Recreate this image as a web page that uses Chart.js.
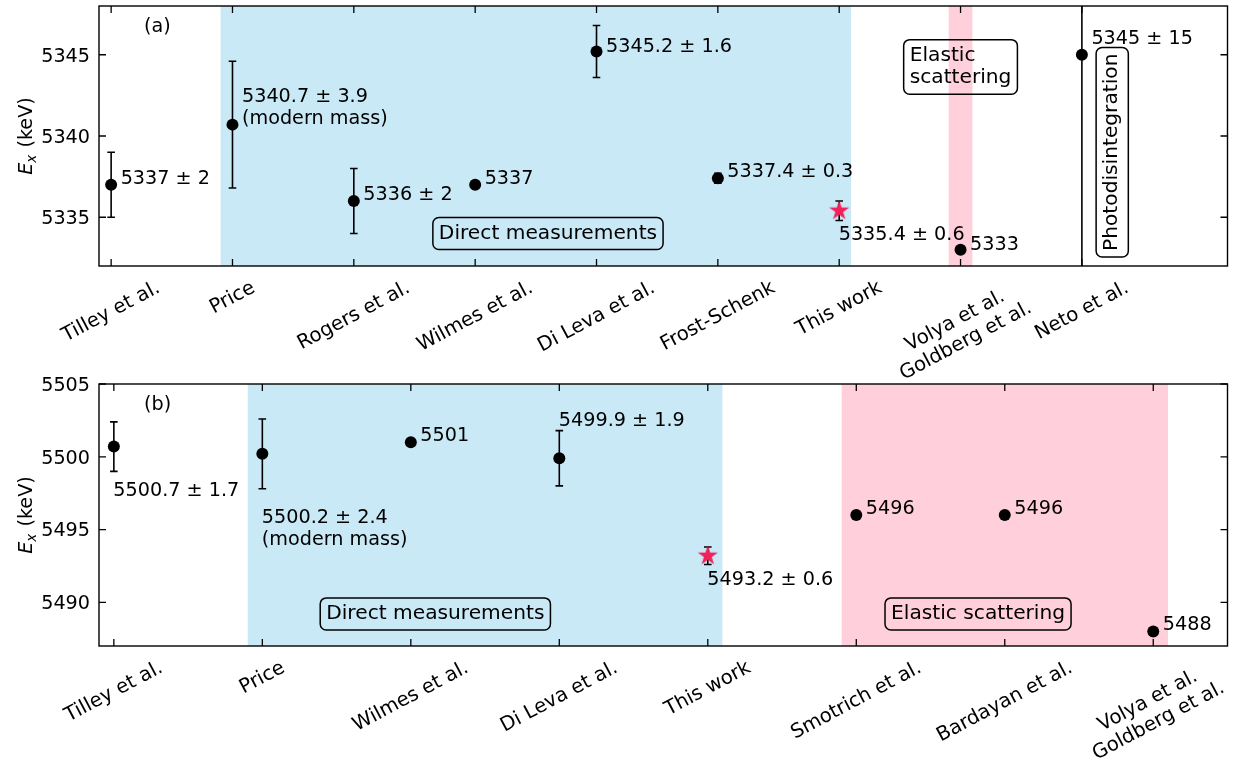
<!DOCTYPE html>
<html>
<head>
<meta charset="utf-8">
<style>
  html, body { margin: 0; padding: 0; background: #ffffff; }
  #wrap { position: relative; width: 1238px; height: 763px; overflow: hidden; }
  #wrap canvas { position: absolute; left: 0; }
</style>
<script src="https://cdn.jsdelivr.net/npm/chart.js@4.4.1/dist/chart.umd.min.js"></script>
</head>
<body>
<div id="wrap">
  <canvas id="panelA" width="1238" height="392" style="top:0px"></canvas>
  <canvas id="panelB" width="1238" height="391" style="top:372px"></canvas>
</div>
<script>
// ---------- Panel (a): ~5.3 MeV level ----------
const refsA    = ['Tilley et al.', 'Price', 'Rogers et al.', 'Wilmes et al.', 'Di Leva et al.',
                  'Frost-Schenk', 'This work', 'Volya et al.\nGoldberg et al.', 'Neto et al.'];
const energyA  = [5337, 5340.7, 5336, 5337, 5345.2, 5337.4, 5335.4, 5333, 5345];
const uncertA  = [2, 3.9, 2, null, 1.6, 0.3, 0.6, null, 15];
const notesA   = ['', '(modern mass)', '', '', '', '', '', '', ''];
const yTicksA  = [5335, 5340, 5345];
const yLimitsA = [5332, 5348];
const xLimitsA = [-0.1, 9.2];
const directA  = [0.9, 6.1];
const elasticA = [6.9, 7.1];

// ---------- Panel (b): ~5.5 MeV level ----------
const refsB    = ['Tilley et al.', 'Price', 'Wilmes et al.', 'Di Leva et al.', 'This work',
                  'Smotrich et al.', 'Bardayan et al.', 'Volya et al.\nGoldberg et al.'];
const energyB  = [5500.7, 5500.2, 5501, 5499.9, 5493.2, 5496, 5496, 5488];
const uncertB  = [1.7, 2.4, null, 1.9, 0.6, null, null, null];
const notesB   = ['', '(modern mass)', '', '', '', '', '', ''];
const yTicksB  = [5490, 5495, 5500, 5505];
const yLimitsB = [5487, 5505];
const xLimitsB = [-0.1, 7.5];
const directB  = [0.9, 4.1];
const elasticB = [4.9, 7.1];

// ---------- annotation layout (pixel offsets from each marker: text origin, baseline) ----------
const labelOffsetA = [[9.5, -1], [9.5, -23], [9.5, -1], [9.5, -1], [9.5, 0],
                      [9.5, -1], [-0.5, 29], [9.5, 0], [9.5, -11]];
const labelOffsetB = [[-0.5, 49], [-0.5, 69], [9.5, -1], [-0.5, -32], [-0.5, 29],
                      [9.5, -1], [9.5, -1], [9.5, -1.5]];
const boxesA = [
  { text: 'Direct measurements', x: 3.6, y: 5334 },
  { text: 'Elastic\nscattering', x: 7.0, y: 5344.25 },
  { text: 'Photodisintegration', x: 8.25, y: 5339, vertical: true }
];
const boxesB = [
  { text: 'Direct measurements', x: 2.165, y: 5489.2 },
  { text: 'Elastic scattering', x: 5.82, y: 5489.2 }
];

// ---------- styling ----------
const FONT = '"DejaVu Sans", "Liberation Sans", sans-serif';
const FS = 19.2;          // y tick labels, value labels
const FS_CAT = 19.7;      // category labels under the x axis
const FS_BOX = 20.2;      // boxed region names
const LABEL_ANGLE = 28;   // category label rotation, degrees
const BLUE = 'rgb(202, 233, 246)';
const PINK = 'rgb(255, 208, 220)';
const STAR_COLOR = '#f0215b';
const THIS_WORK = 'This work';

// filled five-pointed star used as the marker for the present result
const starMarker = (() => {
  const c = document.createElement('canvas');
  c.width = 24; c.height = 24;
  const g = c.getContext('2d');
  g.fillStyle = STAR_COLOR;
  g.beginPath();
  for (let k = 0; k < 10; k++) {
    const r = (k % 2) ? 4.1 : 10.6;
    const ang = -Math.PI / 2 + k * Math.PI / 5;
    g.lineTo(12 + r * Math.cos(ang), 12 + r * Math.sin(ang));
  }
  g.closePath();
  g.fill();
  return c;
})();

function valueLabel(v, e, note) {
  let s = String(v);
  if (e != null) s += ' \u00B1 ' + e;
  if (note) s += '\n' + note;
  return s;
}

function roundRect(ctx, x, y, w, h, r) {
  ctx.beginPath();
  ctx.moveTo(x + r, y);
  ctx.lineTo(x + w - r, y);
  ctx.arcTo(x + w, y, x + w, y + r, r);
  ctx.lineTo(x + w, y + h - r);
  ctx.arcTo(x + w, y + h, x + w - r, y + h, r);
  ctx.lineTo(x + r, y + h);
  ctx.arcTo(x, y + h, x, y + h - r, r);
  ctx.lineTo(x, y + r);
  ctx.arcTo(x, y, x + r, y, r);
  ctx.closePath();
}

// axis frame, inward ticks, tick labels, titles and annotations
function decorations(p) {
  return {
    id: 'decor' + p.tag,
    afterDatasetsDraw(chart) {
      const { ctx, chartArea: a } = chart;
      const xs = chart.scales.x, ys = chart.scales.y;
      ctx.save();
      ctx.fillStyle = '#000';
      ctx.strokeStyle = '#000';

      // frame
      ctx.lineWidth = 1.4;
      ctx.strokeRect(a.left, a.top, a.right - a.left, a.bottom - a.top);

      // inward ticks
      ctx.lineWidth = 1.3;
      ctx.beginPath();
      p.yTicks.forEach(v => {
        const py = ys.getPixelForValue(v);
        ctx.moveTo(a.left, py); ctx.lineTo(a.left + 7, py);
        ctx.moveTo(a.right, py); ctx.lineTo(a.right - 7, py);
      });
      p.refs.forEach((r, i) => {
        const px = xs.getPixelForValue(i);
        ctx.moveTo(px, a.bottom); ctx.lineTo(px, a.bottom - 7);
        ctx.moveTo(px, a.top); ctx.lineTo(px, a.top + 7);
      });
      ctx.stroke();

      // y tick labels
      ctx.font = `${FS}px ${FONT}`;
      ctx.textAlign = 'right';
      ctx.textBaseline = 'alphabetic';
      p.yTicks.forEach(v => {
        ctx.fillText(String(v), a.left - 9, ys.getPixelForValue(v) + 6.8);
      });

      // y axis title: E_x (keV)
      {
        const cy = (a.top + a.bottom) / 2;
        ctx.save();
        ctx.translate(31.5, cy);
        ctx.rotate(-Math.PI / 2);
        ctx.textAlign = 'left';
        const fI = `italic ${FS}px ${FONT}`, fS = `italic ${FS * 0.7}px ${FONT}`, fR = `${FS}px ${FONT}`;
        ctx.font = fI; const wE = ctx.measureText('E').width;
        ctx.font = fS; const wX = ctx.measureText('x').width;
        ctx.font = fR; const wU = ctx.measureText(' (keV)').width;
        let x = -(wE + wX + wU + 1) / 2;
        ctx.font = fI; ctx.fillText('E', x, 0); x += wE;
        ctx.font = fS; ctx.fillText('x', x, FS * 0.22); x += wX + 1;
        ctx.font = fR; ctx.fillText(' (keV)', x, 0);
        ctx.restore();
      }

      // rotated category labels, rotated box centred under each tick
      ctx.font = `${FS_CAT}px ${FONT}`;
      ctx.textAlign = 'left';
      const th = LABEL_ANGLE * Math.PI / 180, c = Math.cos(th), s = Math.sin(th);
      const lh = 1.15 * FS_CAT, asc = 0.76 * FS_CAT, desc = 0.24 * FS_CAT;
      p.refs.forEach((ref, i) => {
        const lines = ref.split('\n');
        const widths = lines.map(l => ctx.measureText(l).width);
        const w = Math.max(...widths);
        const vTop = asc, vBot = -((lines.length - 1) * lh + desc);
        const tx = xs.getPixelForValue(i);
        const x0 = tx - (w * c - vBot * s - vTop * s) / 2;
        const y0 = a.bottom + 12 + (w * s + vTop * c);
        ctx.save();
        ctx.translate(x0, y0);
        ctx.rotate(-th);
        lines.forEach((l, k) => ctx.fillText(l, (w - widths[k]) / 2, k * lh));
        ctx.restore();
      });

      // value labels beside the markers
      ctx.font = `${FS}px ${FONT}`;
      p.energy.forEach((v, i) => {
        const px = xs.getPixelForValue(i), py = ys.getPixelForValue(v);
        const [dx, dy] = p.offsets[i];
        valueLabel(v, p.uncert[i], p.notes[i]).split('\n')
          .forEach((l, k) => ctx.fillText(l, px + dx, py + dy + k * 22));
      });

      // panel tag
      ctx.fillText(p.tag, a.left + 45, a.top + 26);

      // boxed region names
      ctx.font = `${FS_BOX}px ${FONT}`;
      ctx.lineWidth = 1.5;
      const blh = 22.4, bAsc = 0.76 * FS_BOX, bDesc = 0.24 * FS_BOX, pad = 6;
      p.boxes.forEach(b => {
        const lines = b.text.split('\n');
        const w = Math.max(...lines.map(l => ctx.measureText(l).width));
        const h = bAsc + (lines.length - 1) * blh + bDesc;
        ctx.save();
        ctx.translate(xs.getPixelForValue(b.x), ys.getPixelForValue(b.y));
        if (b.vertical) ctx.rotate(-Math.PI / 2);
        roundRect(ctx, -w / 2 - pad, -h / 2 - pad, w + 2 * pad, h + 2 * pad, pad);
        ctx.stroke();
        lines.forEach((l, k) => ctx.fillText(l, -w / 2, -h / 2 + bAsc + k * blh));
        ctx.restore();
      });

      ctx.restore();
    }
  };
}

function buildPanel(canvasId, p) {
  const datasets = [];

  // shaded regions: a flat line along the top edge filled down to the axis bottom
  [[p.direct, BLUE], [p.elastic, PINK]].forEach(([r, col]) => datasets.push({
    data: [{ x: r[0], y: p.yLim[1] }, { x: r[1], y: p.yLim[1] }],
    fill: 'start', backgroundColor: col, borderColor: 'rgba(0,0,0,0)', borderWidth: 0,
    pointRadius: 0, order: 3
  }));

  // error bars (separate segments split by null points, caps as line markers)
  const bars = [];
  p.energy.forEach((v, i) => {
    const e = p.uncert[i];
    if (e != null) bars.push({ x: i, y: v - e }, { x: i, y: v + e }, { x: i, y: null });
  });
  datasets.push({
    data: bars, showLine: true, spanGaps: false,
    borderColor: '#000', borderWidth: 1.6,
    pointStyle: 'line', pointRadius: 3.8, pointBorderWidth: 1.6,
    pointBorderColor: '#000', pointBackgroundColor: '#000', order: 2
  });

  // measured energies
  const tw = p.refs.indexOf(THIS_WORK);
  datasets.push({
    data: p.energy.map((v, i) => ({ x: i, y: v })), showLine: false,
    pointStyle: ctx => ctx.dataIndex === tw ? starMarker : 'circle',
    pointRadius: 6, pointBackgroundColor: '#000', pointBorderWidth: 0, order: 1
  });

  const cv = document.getElementById(canvasId);
  return new Chart(cv, {
    type: 'line',
    data: { datasets },
    options: {
      responsive: false, animation: false, devicePixelRatio: 1, events: [],
      layout: { padding: { left: 99, right: 10.5, top: p.padTop, bottom: cv.height - p.areaBottom } },
      plugins: { legend: { display: false }, tooltip: { enabled: false } },
      scales: {
        x: { type: 'linear', min: p.xLim[0], max: p.xLim[1], display: false },
        y: { type: 'linear', min: p.yLim[0], max: p.yLim[1], display: false }
      }
    },
    plugins: [decorations(p)]
  });
}

buildPanel('panelA', {
  tag: '(a)', refs: refsA, energy: energyA, uncert: uncertA, notes: notesA,
  yTicks: yTicksA, yLim: yLimitsA, xLim: xLimitsA, direct: directA, elastic: elasticA,
  offsets: labelOffsetA, boxes: boxesA, padTop: 4, areaBottom: 266
});
buildPanel('panelB', {
  tag: '(b)', refs: refsB, energy: energyB, uncert: uncertB, notes: notesB,
  yTicks: yTicksB, yLim: yLimitsB, xLim: xLimitsB, direct: directB, elastic: elasticB,
  offsets: labelOffsetB, boxes: boxesB, padTop: 12, areaBottom: 274
});
</script>
</body>
</html>
